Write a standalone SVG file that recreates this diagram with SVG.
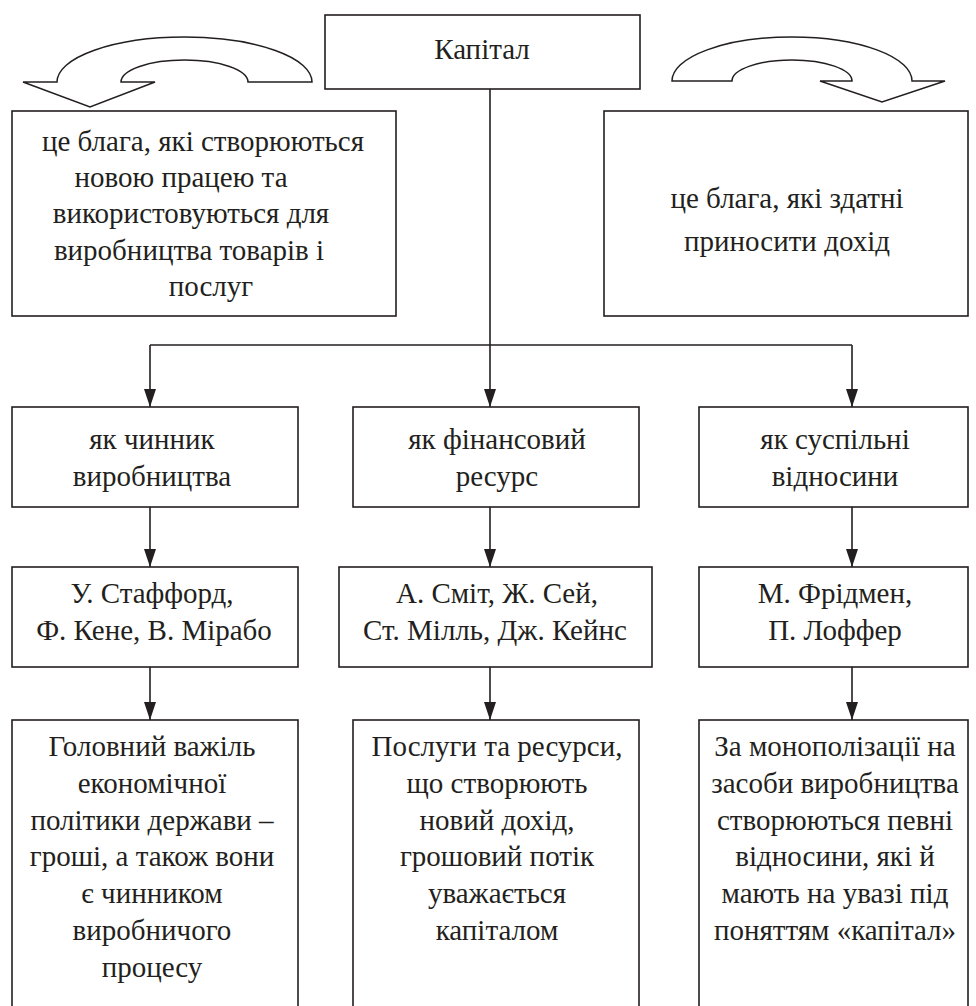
<svg xmlns="http://www.w3.org/2000/svg" width="976" height="1006" viewBox="0 0 976 1006">
<defs>
<style>
.box{fill:#fff;stroke:#231f20;stroke-width:1.6}
.ln{fill:none;stroke:#231f20;stroke-width:1.6}
.curl{fill:#fff;stroke:#231f20;stroke-width:1.5;stroke-linejoin:miter}
.txt{font-family:"Liberation Serif","Times New Roman",serif;font-size:29px;fill:#231f20;text-anchor:middle}
</style>
<marker id="ad" viewBox="0 0 12 18" refX="6" refY="18" markerWidth="12" markerHeight="18" markerUnits="userSpaceOnUse" orient="0">
<path d="M0,0 L12,0 L6,18 Z" fill="#231f20"/>
</marker>
</defs>
<rect width="976" height="1006" fill="#fff"/>

<g id="curl-left">
<path class="curl" d="M57,82 A127.5 45 0 0 1 312,82 L248,82 A63.5 22 0 0 0 121,82 L155,82 L90,107 L23,82 Z"/>
</g>
<g id="curl-right">
<path class="curl" d="M672,81 A120 44 0 0 1 912,81 L945,81 L882,102 L820,81 L852,81 A60 21 0 0 0 732,81 Z"/>
</g>

<g id="connectors">
<line class="ln" x1="490" y1="89" x2="490" y2="345"/>
<line class="ln" x1="150" y1="345" x2="852" y2="345"/>
<line class="ln" x1="150" y1="345" x2="150" y2="407" marker-end="url(#ad)"/>
<line class="ln" x1="490" y1="345" x2="490" y2="407" marker-end="url(#ad)"/>
<line class="ln" x1="852" y1="345" x2="852" y2="407" marker-end="url(#ad)"/>
<line class="ln" x1="150" y1="507" x2="150" y2="567" marker-end="url(#ad)"/>
<line class="ln" x1="490" y1="507" x2="490" y2="567" marker-end="url(#ad)"/>
<line class="ln" x1="852" y1="507" x2="852" y2="567" marker-end="url(#ad)"/>
<line class="ln" x1="150" y1="667" x2="150" y2="720" marker-end="url(#ad)"/>
<line class="ln" x1="490" y1="667" x2="490" y2="720" marker-end="url(#ad)"/>
<line class="ln" x1="852" y1="667" x2="852" y2="720" marker-end="url(#ad)"/>
</g>

<g class="txt">
<g id="kapital">
<rect class="box" x="325" y="15" width="315" height="74"/>
<text x="482" y="59">Капітал</text>
</g>

<g id="def-left">
<rect class="box" x="12" y="111" width="384" height="205"/>
<text x="203" y="151">це блага, які створюються</text>
<text x="181" y="187">новою працею та</text>
<text x="191" y="223">використовуються для</text>
<text x="189" y="260">виробництва товарів і</text>
<text x="211" y="296">послуг</text>
</g>

<g id="def-right">
<rect class="box" x="604" y="111" width="364" height="205"/>
<text x="787" y="208">це блага, які здатні</text>
<text x="787" y="251">приносити дохід</text>
</g>

<g id="r1-left">
<rect class="box" x="12" y="407" width="286" height="100"/>
<text x="152" y="449">як чинник</text>
<text x="152" y="486">виробництва</text>
</g>
<g id="r1-mid">
<rect class="box" x="353" y="407" width="286" height="100"/>
<text x="497" y="449">як фінансовий</text>
<text x="497" y="486">ресурс</text>
</g>
<g id="r1-right">
<rect class="box" x="699" y="407" width="269" height="100"/>
<text x="835" y="449">як суспільні</text>
<text x="835" y="486">відносини</text>
</g>

<g id="r2-left">
<rect class="box" x="12" y="567" width="286" height="100"/>
<text x="152" y="603">У. Стаффорд,</text>
<text x="154" y="640">Ф. Кене, В. Мірабо</text>
</g>
<g id="r2-mid">
<rect class="box" x="339" y="567" width="313" height="100"/>
<text x="497" y="603">А. Сміт, Ж. Сей,</text>
<text x="495" y="640">Ст. Мілль, Дж. Кейнс</text>
</g>
<g id="r2-right">
<rect class="box" x="699" y="567" width="269" height="100"/>
<text x="835" y="603">М. Фрідмен,</text>
<text x="835" y="640">П. Лоффер</text>
</g>

<g id="r3-left">
<rect class="box" x="12" y="720" width="286" height="300"/>
<text x="152" y="756">Головний важіль</text>
<text x="152" y="793">економічної</text>
<text x="152" y="830">політики держави  –</text>
<text x="152" y="866">гроші, а також вони</text>
<text x="152" y="903">є чинником</text>
<text x="152" y="940">виробничого</text>
<text x="152" y="977">процесу</text>
</g>
<g id="r3-mid">
<rect class="box" x="353" y="720" width="286" height="300"/>
<text x="497" y="756">Послуги та ресурси,</text>
<text x="497" y="793">що створюють</text>
<text x="497" y="830">новий дохід,</text>
<text x="497" y="866">грошовий потік</text>
<text x="497" y="903">уважається</text>
<text x="497" y="940">капіталом</text>
</g>
<g id="r3-right">
<rect class="box" x="699" y="720" width="269" height="300"/>
<text x="835" y="756">За монополізації на</text>
<text x="835" y="793">засоби виробництва</text>
<text x="835" y="830">створюються певні</text>
<text x="835" y="866">відносини, які й</text>
<text x="835" y="903">мають на увазі під</text>
<text x="835" y="940">поняттям «капітал»</text>
</g>
</g>
</svg>
